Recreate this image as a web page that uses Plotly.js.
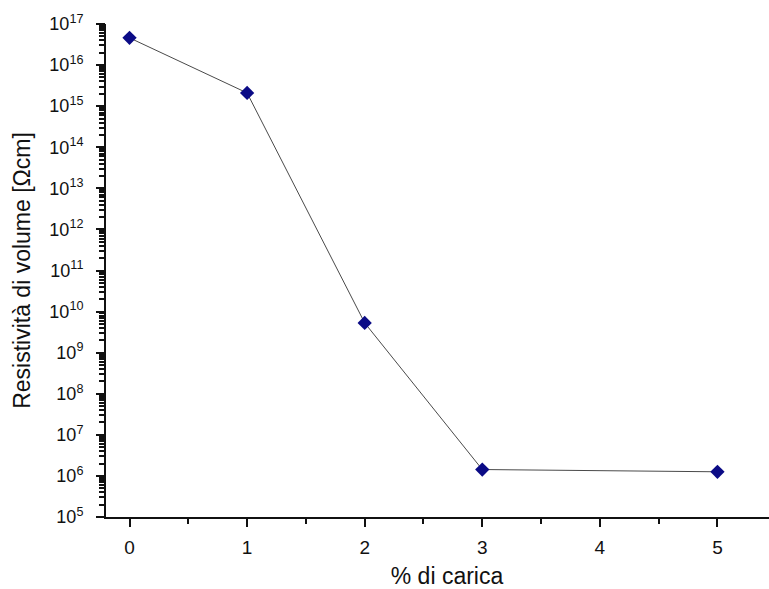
<!DOCTYPE html>
<html>
<head>
<meta charset="utf-8">
<script src="https://cdn.plot.ly/plotly-3.0.1.min.js"></script>
<style>
  html, body { margin: 0; padding: 0; background: #ffffff; overflow: hidden; }
  #chart { width: 790px; height: 589px; }
</style>
</head>
<body>
<div id="chart"></div>
<script>
// Volume resistivity versus filler content
const caricaPct = [0, 1, 2, 3, 5];
const resistivita = [4.6e16, 2.1e15, 5.3e9, 1.43e6, 1.26e6];

// decade exponents labelled on the resistivity axis
const esponenti = [5, 6, 7, 8, 9, 10, 11, 12, 13, 14, 15, 16, 17];
const xTicks = [0, 1, 2, 3, 4, 5];

const FONT = 'Liberation Sans, Arial, sans-serif';

// every tick of the log axis: decades labelled 10^n, 2..9 within each decade unlabelled
const yTickVals = [];
const yTickText = [];
esponenti.forEach((e, i) => {
  yTickVals.push(Math.pow(10, e));
  yTickText.push('10<sup>' + e + '</sup>');
  if (i < esponenti.length - 1) {
    for (let m = 2; m <= 9; m++) {
      yTickVals.push(m * Math.pow(10, e));
      yTickText.push('');
    }
  }
});
const decadeVals = esponenti.map(e => Math.pow(10, e));

const trace = {
  x: caricaPct,
  y: resistivita,
  type: 'scatter',
  mode: 'lines+markers',
  line: { color: '#4a4a4a', width: 1 },
  marker: { symbol: 'diamond', size: 11, color: '#0b0b86', line: { width: 0 } },
  showlegend: false,
  hoverinfo: 'x+y'
};

// same series on the overlay axis that lengthens the decade ticks (draws nothing)
const decadeAxisTrace = {
  x: caricaPct,
  y: resistivita,
  yaxis: 'y2',
  type: 'scatter',
  mode: 'none',
  showlegend: false,
  hoverinfo: 'skip'
};

const layout = {
  width: 790,
  height: 589,
  margin: { l: 106, r: 2, t: 24, b: 72 },
  paper_bgcolor: '#ffffff',
  plot_bgcolor: '#ffffff',
  font: { family: FONT, color: '#111111' },
  xaxis: {
    range: [-0.2, 5.6],
    tickmode: 'array',
    tickvals: xTicks,
    ticktext: xTicks.map(String),
    ticks: 'outside',
    ticklen: 8,
    tickwidth: 2,
    tickcolor: '#111',
    minor: { tickmode: 'array', tickvals: [0.5, 1.5, 2.5, 3.5, 4.5], ticks: 'outside', ticklen: 5, tickwidth: 2, tickcolor: '#111', showgrid: false },
    showline: true,
    linecolor: '#111',
    linewidth: 2,
    showgrid: false,
    zeroline: false,
    ticklabelstandoff: 4,
    tickfont: { size: 19, family: FONT, color: '#111' },
    title: { text: '% di carica', font: { size: 23, family: FONT, color: '#111' }, standoff: 14 }
  },
  yaxis: {
    type: 'log',
    range: [5, 17],
    tickmode: 'array',
    tickvals: yTickVals,
    ticktext: yTickText,
    ticks: 'outside',
    ticklen: 5,
    tickwidth: 2,
    tickcolor: '#111',
    showline: true,
    linecolor: '#111',
    linewidth: 2,
    showgrid: false,
    zeroline: false,
    ticklabelstandoff: 12,
    tickfont: { size: 18, family: FONT, color: '#111' },
    title: { text: 'Resistività di volume [Ωcm]', font: { size: 23, family: FONT, color: '#111' }, standoff: 12 }
  },
  yaxis2: {
    type: 'log',
    range: [5, 17],
    overlaying: 'y',
    side: 'left',
    anchor: 'x',
    tickmode: 'array',
    tickvals: decadeVals,
    ticktext: decadeVals.map(() => ''),
    ticks: 'outside',
    ticklen: 9,
    tickwidth: 2,
    tickcolor: '#111',
    showline: false,
    showgrid: false,
    zeroline: false
  }
};

Plotly.newPlot('chart', [trace, decadeAxisTrace], layout, { displayModeBar: false, staticPlot: true });
</script>
</body>
</html>
